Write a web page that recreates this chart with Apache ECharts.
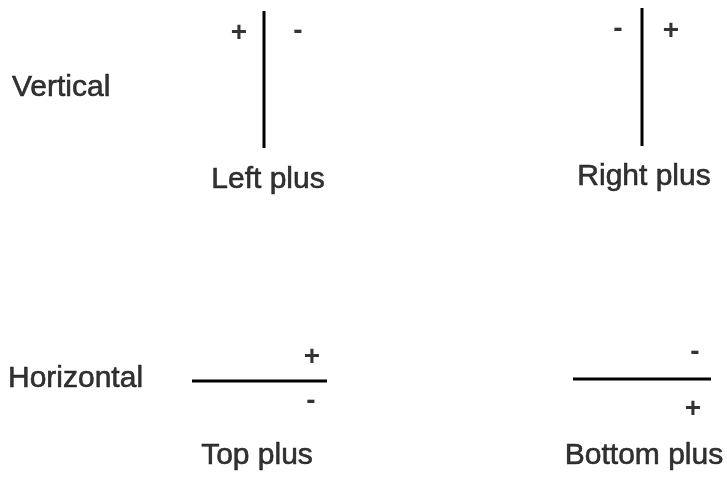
<!DOCTYPE html>
<html>
<head>
<meta charset="utf-8">
<script src="https://cdn.jsdelivr.net/npm/echarts@6/dist/echarts.min.js"></script>
<style>
  html, body { margin: 0; padding: 0; background: #fff; }
  #chart { width: 727px; height: 477px; }
</style>
</head>
<body>
<div id="chart"></div>
<script>
// drawing coordinates (x, y from top-left)
var verticalLines = [
    [[264, 11], [264, 148]],
    [[642, 8], [642, 146]]
];
var horizontalLines = [
    [[192, 381], [327, 381]],
    [[573, 379], [711, 379]]
];
var signs = [
    ['+', 239, 33], ['-', 298, 31],
    ['-', 618, 29], ['+', 671, 31],
    ['+', 312, 357], ['-', 311, 401],
    ['-', 695, 352], ['+', 693, 409]
];
var captions = [
    ['Vertical', 12, 88, 'left'],
    ['Left plus', 268, 180, 'center'],
    ['Right plus', 644, 177, 'center'],
    ['Horizontal', 8, 379, 'left'],
    ['Top plus', 257, 456, 'center'],
    ['Bottom plus', 644, 456, 'center']
];

window.addEventListener('load', function() {
    var myChart = echarts.init(document.getElementById('chart'));

    var series = [];
    verticalLines.concat(horizontalLines).forEach(function(seg) {
        series.push({
            type: 'line',
            data: seg,
            symbol: 'none',
            silent: true,
            lineStyle: { color: '#000', width: 3 }
        });
    });

    series.push({
        type: 'scatter',
        symbolSize: 0,
        data: signs.map(function(s) {
            return { value: [s[1], s[2]], name: s[0] };
        }),
        label: {
            show: true,
            position: 'inside',
            formatter: '{b}',
            color: '#000',
            fontSize: 28,
            fontWeight: 'bold',
            fontFamily: 'Liberation Sans'
        }
    });

    series.push({
        type: 'scatter',
        symbolSize: 0,
        data: captions.map(function(c) {
            return {
                value: [c[1], c[2]],
                name: c[0],
                label: { align: c[3] }
            };
        }),
        label: {
            show: true,
            position: 'inside',
            formatter: '{b}',
            color: '#000',
            textBorderColor: '#000',
            textBorderWidth: 0.6,
            fontSize: 30,
            fontFamily: 'Liberation Sans'
        }
    });

    var option = {
        animation: false,
        grid: { left: 0, right: 0, top: 0, bottom: 0 },
        xAxis: { type: 'value', min: 0, max: 727, show: false },
        yAxis: { type: 'value', min: 0, max: 477, inverse: true, show: false },
        series: series
    };

    myChart.setOption(option);
});
</script>
</body>
</html>
